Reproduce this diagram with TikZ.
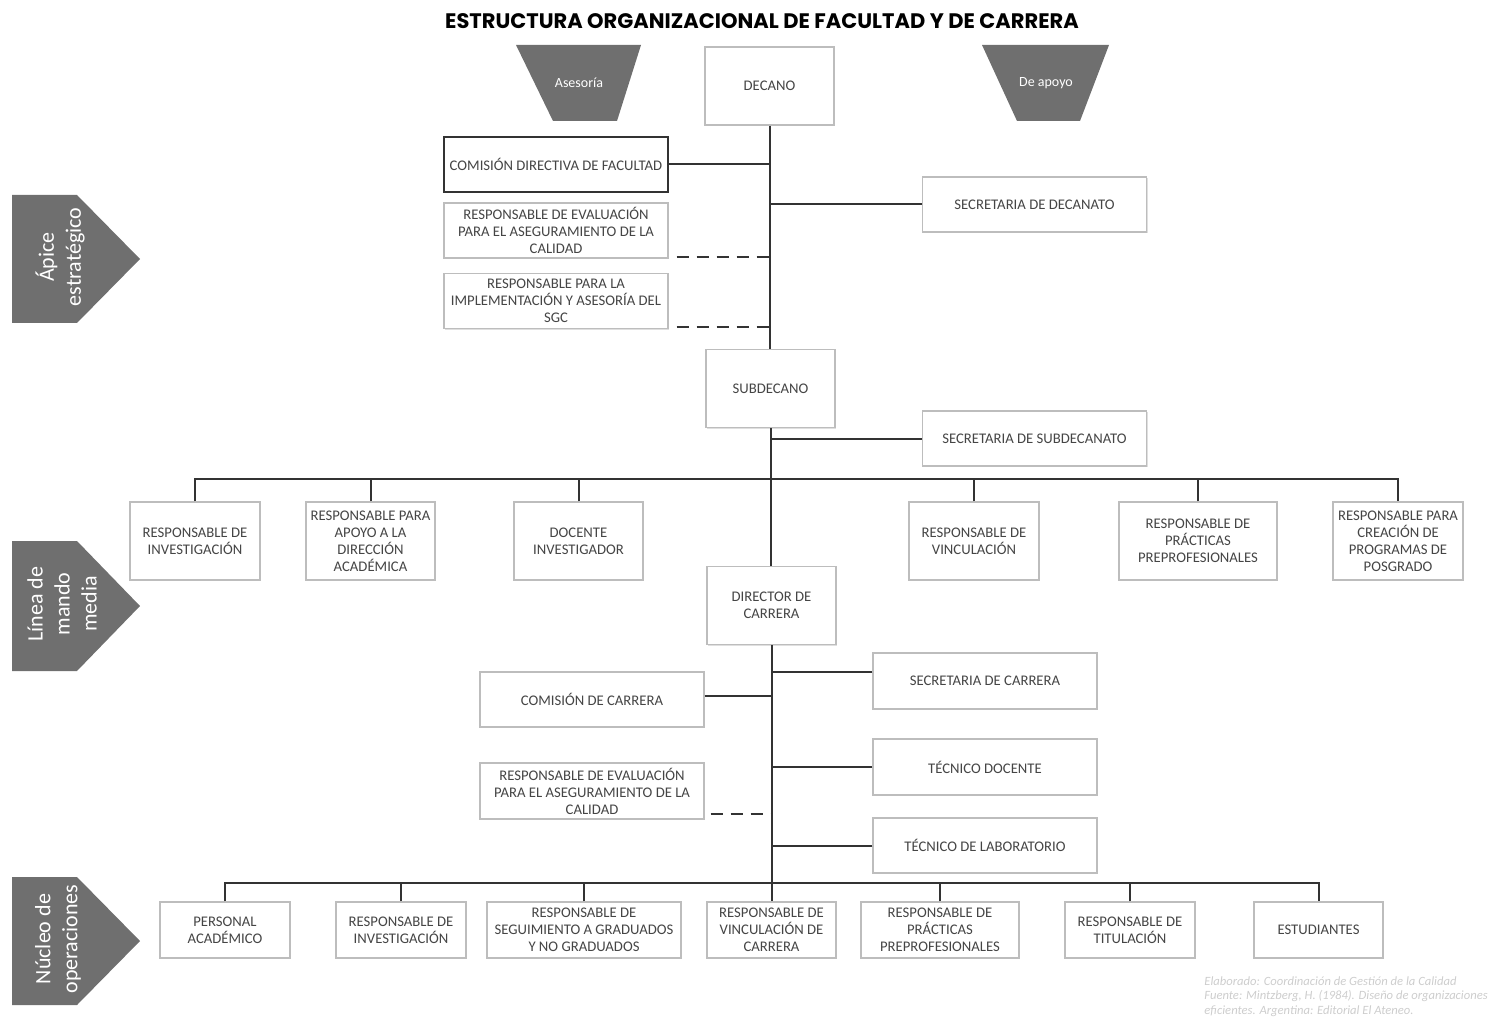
\documentclass[tikz,border=0pt]{standalone}
\usepackage{fontspec}
\setmainfont{Carlito}
\newfontfamily\fuentetitulo{Poppins}
\usetikzlibrary{positioning,shadows}
\definecolor{gris}{HTML}{6F6F6F}
\definecolor{borde}{HTML}{BDBDBD}
\definecolor{texto}{HTML}{454545}
\definecolor{negro}{HTML}{333333}
\definecolor{nota}{HTML}{CDCDCD}

\begin{document}
\begin{tikzpicture}[
  x=0.5pt, y=-0.5pt,
  caja/.style={rectangle, draw=borde, fill=white, line width=0.6pt, align=center, text=texto,
               inner sep=1pt, font=\fontsize{7.35}{8.5}\selectfont,
               drop shadow={shadow xshift=0.6pt, shadow yshift=-0.6pt, opacity=0.25, fill=gray}},
  cajafuerte/.style={caja, draw=negro, line width=0.9pt},
  ancha/.style={minimum width=112pt, minimum height=27.5pt},
  media/.style={minimum width=64.5pt, minimum height=39pt},
  baja/.style={minimum width=65pt, minimum height=28pt},
  linea/.style={draw=negro, line width=1pt},
  lineap/.style={linea, dash pattern=on 6pt off 4pt},
  banda/.style={text=white, font=\fontsize{7}{8}\selectfont},
  etiqueta/.style={text=white, rotate=90, align=center, font=\fontsize{11}{13.5}\selectfont}
]
\useasboundingbox (0,0) rectangle (1492,1021);

\node (titulo) at (762,21) {\fuentetitulo\bfseries\fontsize{10.5}{12}\selectfont ESTRUCTURA ORGANIZACIONAL DE FACULTAD Y DE CARRERA};

% asesoria y apoyo
\fill[gris] (516,45) -- (641,45) -- (617,121) -- (553,121) -- cycle;
\node[banda] (asesoria) at (579,83) {Asesoría};
\fill[gris] (982,45) -- (1109,45) -- (1080,121) -- (1017,121) -- cycle;
\node[banda] (apoyo) at (1046,83) {De apoyo};

% niveles
\fill[gris] (12,195) -- (77,195) -- (140,259) -- (77,323) -- (12,323) -- cycle;
\node[etiqueta] (apice) at (60,257) {Ápice\\estratégico};
\fill[gris] (12,541) -- (77,541) -- (140,606) -- (77,671) -- (12,671) -- cycle;
\node[etiqueta] (mando) at (62,604) {Línea de\\mando\\media};
\fill[gris] (12,877) -- (77,877) -- (140,941) -- (77,1005) -- (12,1005) -- cycle;
\node[etiqueta] (nucleo) at (58,939) {Núcleo de\\operaciones};

% apice estrategico
\node[caja, media] (decano) at (769.5,86) {DECANO};
\node[cajafuerte, ancha] (cdf) at (556,164.5) {COMISIÓN DIRECTIVA DE FACULTAD};
\node[caja, ancha] (rea) at (556,230.5) {RESPONSABLE DE EVALUACIÓN\\PARA EL ASEGURAMIENTO DE LA\\CALIDAD};
\node[caja, ancha] (rim) at (556,301) {RESPONSABLE PARA LA\\IMPLEMENTACIÓN Y ASESORÍA DEL\\SGC};
\node[caja, ancha] (secdec) at (1034.5,204.5) {SECRETARIA DE DECANATO};
\node[caja, media] (subdecano) at (770.5,388.5) {SUBDECANO};
\node[caja, ancha] (secsub) at (1034.5,438.5) {SECRETARIA DE SUBDECANATO};

% linea media
\node[caja, media, minimum width=65pt] (ri) at (195,541) {RESPONSABLE DE\\INVESTIGACIÓN};
\node[caja, media] (rad) at (370.5,541) {RESPONSABLE PARA\\APOYO A LA\\DIRECCIÓN\\ACADÉMICA};
\node[caja, media] (di) at (578.5,541) {DOCENTE\\INVESTIGADOR};
\node[caja, media, minimum width=65pt] (rv) at (974,541) {RESPONSABLE DE\\VINCULACIÓN};
\node[caja, media, minimum width=79pt] (rpp) at (1198,541) {RESPONSABLE DE\\PRÁCTICAS\\PREPROFESIONALES};
\node[caja, media, minimum width=65pt] (rcp) at (1398,541) {RESPONSABLE PARA\\CREACIÓN DE\\PROGRAMAS DE\\POSGRADO};
\node[caja, media] (director) at (771.5,605.5) {DIRECTOR DE\\CARRERA};
\node[caja, ancha] (cc) at (592,699.5) {COMISIÓN DE CARRERA};
\node[caja, ancha, minimum height=28pt] (rea2) at (592,791) {RESPONSABLE DE EVALUACIÓN\\PARA EL ASEGURAMIENTO DE LA\\CALIDAD};
\node[caja, ancha, minimum height=28pt] (sc) at (985,681) {SECRETARIA DE CARRERA};
\node[caja, ancha, minimum height=28pt] (td) at (985,767) {TÉCNICO DOCENTE};
\node[caja, ancha] (tl) at (985,845.5) {TÉCNICO DE LABORATORIO};

% nucleo de operaciones
\node[caja, baja] (pa) at (225,930) {PERSONAL\\ACADÉMICO};
\node[caja, baja] (ri2) at (401,930) {RESPONSABLE DE\\INVESTIGACIÓN};
\node[caja, baja, minimum width=97pt] (rsg) at (584,930) {RESPONSABLE DE\\SEGUIMIENTO A GRADUADOS\\Y NO GRADUADOS};
\node[caja, baja, minimum width=64.5pt] (rvc) at (771.5,930) {RESPONSABLE DE\\VINCULACIÓN DE\\CARRERA};
\node[caja, baja, minimum width=79pt] (rpp2) at (940,930) {RESPONSABLE DE\\PRÁCTICAS\\PREPROFESIONALES};
\node[caja, baja] (rt) at (1130,930) {RESPONSABLE DE\\TITULACIÓN};
\node[caja, baja, minimum width=64.5pt] (est) at (1318.5,930) {ESTUDIANTES};

\node[anchor=north west, align=left, text=nota, inner sep=1pt, font=\itshape\fontsize{6.3}{7.4}\selectfont] (fuente) at (1202,974)
  {Elaborado: Coordinación de Gestión de la Calidad\\Fuente: Mintzberg, H. (1984). Diseño de organizaciones\\eficientes. Argentina: Editorial El Ateneo.};

% eje central
\draw[linea] (decano.south) -- (decano.south |- subdecano.north);
\draw[linea] (subdecano.south) -- (subdecano.south |- director.north);
\draw[linea] (director.south) -- (director.south |- rvc.north);

\draw[linea] (cdf.east) -- (cdf.east -| decano.south);
\draw[linea] (secdec.west) -- (secdec.west -| decano.south);
\draw[lineap] ([xshift=4pt,yshift=1pt]rea.south east) -- ([yshift=1pt]rea.south -| decano.south);
\draw[lineap] ([xshift=4pt,yshift=1pt]rim.south east) -- ([yshift=1pt]rim.south -| decano.south);
\draw[linea] (secsub.west) -- (secsub.west -| subdecano.south);

\coordinate (barra1) at (770,479);
\draw[linea] (ri.north) |- (barra1) -| (rcp.north);
\foreach \n in {rad,di,rv,rpp}
  \draw[linea] (\n.north) -- (\n.north |- barra1);

\draw[linea] ([yshift=2pt]cc.east) -- ([yshift=2pt]cc.east -| director.south);
\draw[linea] ([yshift=4.5pt]sc.west) -- ([yshift=4.5pt]sc.west -| director.south);
\draw[linea] (td.west) -- (td.west -| director.south);
\draw[linea] (tl.west) -- (tl.west -| director.south);
\draw[lineap] ([xshift=3pt,yshift=3pt]rea2.south east) -- ([yshift=3pt]rea2.south -| director.south);

\coordinate (barra2) at (771.5,883);
\draw[linea] (pa.north) |- (barra2) -| (est.north);
\foreach \n in {ri2,rsg,rpp2,rt}
  \draw[linea] (\n.north) -- (\n.north |- barra2);
\end{tikzpicture}
\end{document}
